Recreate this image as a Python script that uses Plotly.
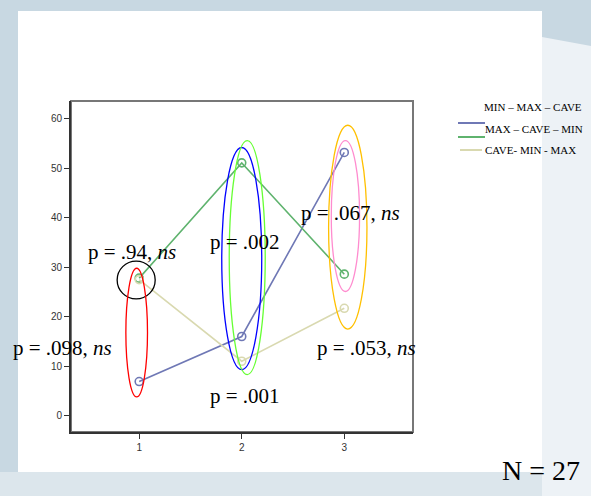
import plotly.graph_objects as go

# ---- data ----
conditions = [1, 2, 3]
tick_labels = ["1", "2", "3"]
min_max_cave = [6.9, 16.0, 53.2]
max_cave_min = [27.8, 51.1, 28.6]
cave_min_max = [27.5, 11.0, 21.7]
series_names = ["MIN \u2013 MAX \u2013 CAVE", "MAX \u2013 CAVE \u2013 MIN", "CAVE- MIN - MAX"]
series_colors = ["#6f78b5", "#5fb36e", "#d9d9b0"]

W, H = 591, 496
ML, MR, MT, MB = 71, 178, 101, 64
PW, PH = W - ML - MR, H - MT - MB


def pxx(x):
    return (x - ML) / PW


def pxy(y):
    return (H - MB - y) / PH


fig = go.Figure()
for vals, name, col in zip([min_max_cave, max_cave_min, cave_min_max], series_names, series_colors):
    fig.add_trace(go.Scatter(
        x=conditions, y=vals, name=name, mode="lines+markers",
        line=dict(color=col, width=1.6),
        marker=dict(symbol="circle-open", size=8, color=col, line=dict(width=1.6)),
        showlegend=False, cliponaxis=False,
    ))

shapes = []
# background pieces
shapes.append(dict(type="rect", xref="paper", yref="paper", layer="below",
                   x0=pxx(18), x1=pxx(542), y0=pxy(472), y1=pxy(11),
                   fillcolor="white", line=dict(width=0)))
shapes.append(dict(type="path", xref="paper", yref="paper", layer="below",
                   path=f"M {pxx(542)},{pxy(37)} L {pxx(591)},{pxy(46)} L {pxx(591)},{pxy(496)} L {pxx(542)},{pxy(496)} Z",
                   fillcolor="#edf2f6", line=dict(width=0)))
shapes.append(dict(type="rect", xref="paper", yref="paper", layer="below",
                   x0=pxx(0), x1=pxx(542), y0=pxy(496), y1=pxy(472),
                   fillcolor="#dce6ec", line=dict(width=0)))
# frame
shapes.append(dict(type="rect", xref="x domain", yref="y domain", x0=0, x1=1, y0=0, y1=1,
                   line=dict(color="#777777", width=2), layer="below"))

# ellipses (data coordinates)
ellipses = [
    (0.785, 1.156, 23.6, 31.25, "black"),
    (0.870, 1.081, 3.8, 29.8, "#ff0000"),
    (1.805, 2.195, 9.3, 54.2, "#0000ff"),
    (1.878, 2.229, 8.3, 55.6, "#66ff33"),
    (2.847, 3.221, 17.5, 58.7, "#ffc000"),
    (2.873, 3.149, 25.1, 55.6, "#ff8ccf"),
]
for x0, x1, y0, y1, c in ellipses:
    shapes.append(dict(type="circle", xref="x", yref="y", x0=x0, x1=x1, y0=y0, y1=y1,
                       line=dict(color=c, width=1.3)))

# legend lines
legend_lines = [(458, 485, 123, series_colors[0]), (458, 485, 137, series_colors[1]),
                (460, 482, 150, series_colors[2])]
for x0, x1, y, c in legend_lines:
    shapes.append(dict(type="line", xref="paper", yref="paper", x0=pxx(x0), x1=pxx(x1),
                       y0=pxy(y), y1=pxy(y), line=dict(color=c, width=2)))

serif = "Liberation Serif, Times New Roman, serif"
ann = []
p_labels = [
    ("p = .94, <i>ns</i>", 0.932, 33.1),
    ("p = .002", 2.034, 35.1),
    ("p = .001", 2.034, 4.0),
    ("p = .067, <i>ns</i>", 3.059, 40.9),
    ("p = .053, <i>ns</i>", 3.215, 13.7),
]
for t, x, y in p_labels:
    ann.append(dict(text=t, x=x, y=y, xref="x", yref="y", showarrow=False,
                    font=dict(family=serif, size=21, color="black"),
                    xanchor="center", yanchor="middle"))
# label left of the axis (outside x range -> paper coordinates)
ann.append(dict(text="p = .098, <i>ns</i>", x=pxx(62), y=pxy(348), xref="paper", yref="paper",
                showarrow=False, font=dict(family=serif, size=21, color="black"),
                xanchor="center", yanchor="middle"))

legend_rows = [(series_names[0], 482, 107), (series_names[1], 483, 129), (series_names[2], 483, 150)]
for t, x, y in legend_rows:
    ann.append(dict(text=t, x=pxx(x), y=pxy(y), xref="paper", yref="paper", showarrow=False,
                    font=dict(family=serif, size=11, color="black"),
                    xanchor="left", yanchor="middle"))

ann.append(dict(text="N = 27", x=pxx(541), y=pxy(470), xref="paper", yref="paper", showarrow=False,
                font=dict(family=serif, size=28, color="black"), xanchor="center", yanchor="middle"))

fig.update_layout(
    width=W, height=H, autosize=False,
    margin=dict(l=ML, r=MR, t=MT, b=MB, pad=0),
    paper_bgcolor="#c8d8e2", plot_bgcolor="rgba(0,0,0,0)",
    shapes=shapes, annotations=ann, showlegend=False,
    xaxis=dict(range=[0.335, 3.67], tickvals=conditions, ticktext=tick_labels,
               showgrid=False, zeroline=False, showline=True, linecolor="#333333", linewidth=2,
               ticks="outside", ticklen=5, tickcolor="#333333", tickwidth=1.2,
               tickfont=dict(family="Liberation Sans, Arial, sans-serif", size=10, color="#333333")),
    yaxis=dict(range=[-3.3, 63.6], tickvals=[0, 10, 20, 30, 40, 50, 60],
               showgrid=False, zeroline=False, showline=True, linecolor="#333333", linewidth=2,
               ticks="outside", ticklen=5, tickcolor="#333333", tickwidth=1.2,
               tickfont=dict(family="Liberation Sans, Arial, sans-serif", size=10, color="#333333")),
)

fig.write_html("out.html")
